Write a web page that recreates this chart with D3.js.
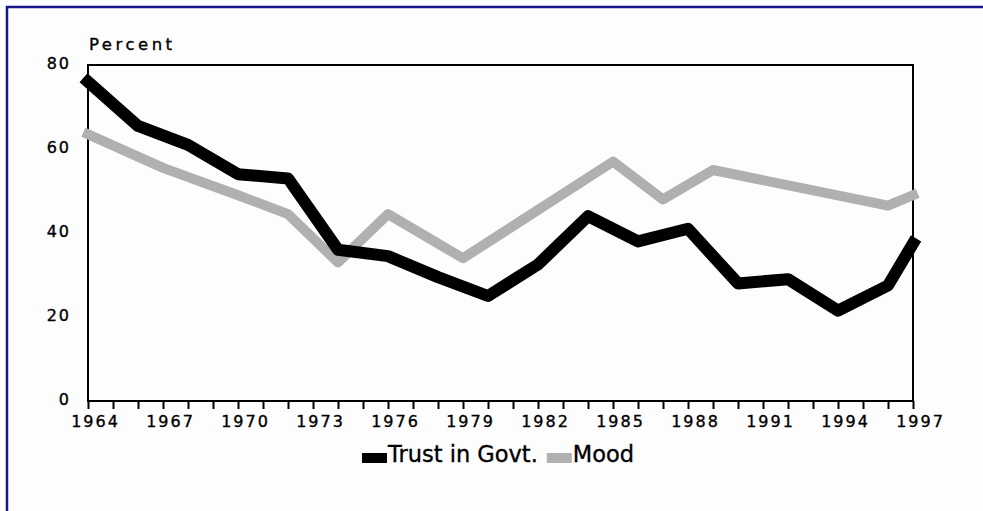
<!DOCTYPE html>
<html>
<head>
<meta charset="utf-8">
<script src="https://cdn.jsdelivr.net/npm/d3@7"></script>
<style>
  html, body { margin: 0; padding: 0; background: #fdfdfd; }
  svg { display: block; }
  text { font-family: "DejaVu Sans", sans-serif; fill: #000; stroke: #000; stroke-width: 0.35px; }
</style>
</head>
<body>
<div id="chart"></div>
<script>
// Trust in government vs. public policy mood, 1964-1997 (percent)
const trustYears  = [1964, 1966, 1968, 1970, 1972, 1974, 1976, 1978, 1980, 1982, 1984, 1986, 1988, 1990, 1992, 1994, 1996, 1997];
const trustValues = [76, 65.5, 61, 54, 53, 36, 34.5, 29.5, 25, 32.5, 44, 38, 41, 28, 29, 21.5, 27.5, 37.5];

const moodYears  = [1964, 1967, 1970, 1972, 1974, 1976, 1979, 1985, 1987, 1989, 1996, 1997];
const moodValues = [63.5, 55.5, 49, 44.5, 33, 44.5, 34, 57, 48, 55, 46.5, 49];

const yTickValues = [0, 20, 40, 60, 80];
const xTickYears  = d3.range(1964, 1998);
const xLabelYears = [1964, 1967, 1970, 1973, 1976, 1979, 1982, 1985, 1988, 1991, 1994, 1997];

const seriesNames = ["Trust in Govt.", "Mood"];
const seriesColors = ["#000000", "#b0b0b0"];

const W = 983, H = 511;
const svg = d3.select("#chart").append("svg").attr("width", W).attr("height", H);

// outer frame (top and left edges)
svg.append("line").attr("x1", 6).attr("x2", W).attr("y1", 7).attr("y2", 7)
  .attr("stroke", "#16168a").attr("stroke-width", 2.5);
svg.append("line").attr("x1", 7).attr("x2", 7).attr("y1", 6).attr("y2", H)
  .attr("stroke", "#16168a").attr("stroke-width", 2.5);

const x = d3.scaleLinear().domain([1964, 1997]).range([88, 913]);
const y = d3.scaleLinear().domain([0, 80]).range([401, 65]);

// plot box
svg.append("rect")
  .attr("x", x(1964)).attr("y", y(80))
  .attr("width", x(1997) - x(1964)).attr("height", y(0) - y(80))
  .attr("fill", "none").attr("stroke", "#000").attr("stroke-width", 2);

// x axis: a tick every year, a label every third year
const xAxis = d3.axisBottom(x)
  .tickValues(xTickYears)
  .tickSize(8)
  .tickFormat(d => xLabelYears.includes(d) ? String(d) : "");
const gx = svg.append("g").attr("transform", `translate(0,${y(0)})`).call(xAxis);
gx.select(".domain").remove();
gx.selectAll(".tick line").attr("stroke", "#000").attr("stroke-width", 2);
gx.selectAll(".tick text")
  .attr("y", 26).attr("dy", 0).attr("dx", 7)
  .style("font-size", "16px").style("letter-spacing", "2px")
  .style("font-family", "'DejaVu Sans', sans-serif").attr("fill", "#000");

// y axis labels only
const yAxis = d3.axisLeft(y).tickValues(yTickValues).tickSize(0).tickPadding(17);
const gy = svg.append("g").attr("transform", `translate(${x(1964)},0)`).call(yAxis);
gy.select(".domain").remove();
gy.selectAll(".tick text")
  .attr("dy", "0.22em")
  .style("font-size", "16px").style("letter-spacing", "2px")
  .style("font-family", "'DejaVu Sans', sans-serif").attr("fill", "#000");

svg.append("text").attr("x", 89).attr("y", 49.5)
  .style("font-size", "16.5px").style("letter-spacing", "3.5px")
  .text("Percent");

// series lines
const line = d3.line().x(d => x(d[0])).y(d => y(d[1]));
const moodPts = moodYears.map((yr, i) => [yr, moodValues[i]]);
const trustPts = trustYears.map((yr, i) => [yr, trustValues[i]]);

svg.append("path").datum(moodPts).attr("d", line)
  .attr("fill", "none").attr("stroke", seriesColors[1])
  .attr("stroke-width", 10).attr("stroke-linejoin", "round").attr("stroke-linecap", "square");
svg.append("path").datum(trustPts).attr("d", line)
  .attr("fill", "none").attr("stroke", seriesColors[0])
  .attr("stroke-width", 12).attr("stroke-linejoin", "round").attr("stroke-linecap", "square");

// legend
const lg = svg.append("g");
let lx = 362;
seriesNames.forEach((name, i) => {
  lg.append("rect").attr("x", lx).attr("y", 453).attr("width", 25).attr("height", 10)
    .attr("fill", seriesColors[i]);
  const t = lg.append("text").attr("x", lx + 26).attr("y", 462)
    .style("font-size", "22.5px").text(name);
  lx = lx + 26 + t.node().getComputedTextLength() + 9;
});
</script>
</body>
</html>
